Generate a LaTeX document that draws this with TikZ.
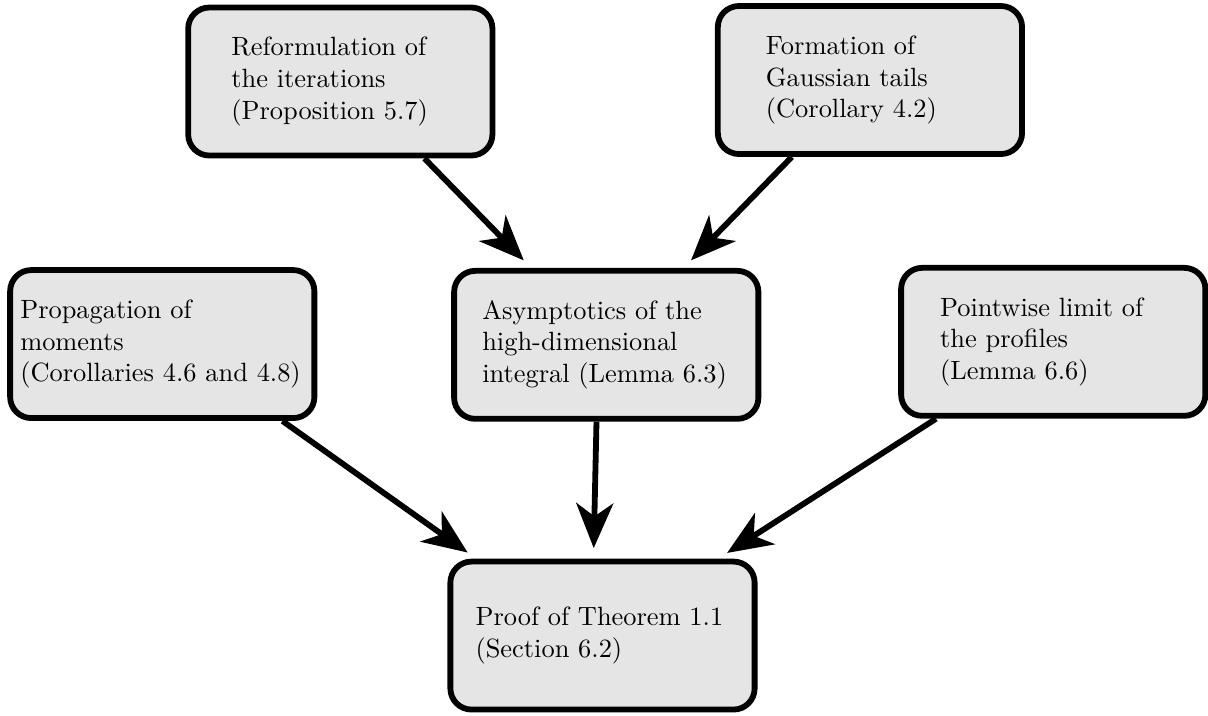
\documentclass[tikz,border=0pt]{standalone}
\usepackage{amsmath}
\usetikzlibrary{arrows.meta}

\begin{document}
\begin{tikzpicture}[
  box/.style = {draw, line width = 2.2pt, fill = black!10, rounded corners = 8pt, minimum width = 4.05cm, minimum height = 1.97cm, align = left},
  link/.style = {line width = 2.2pt, -{Stealth[length = 17pt, width = 14pt, inset = 5pt]}, shorten >= 4pt}
]
\useasboundingbox (0,0) rectangle (16.08,-9.52);
% top row
\node[box, text width = 2.9cm] (reform) at (4.53,-1.085) {Reformulation of\\the iterations\\(Proposition 5.7)};
\node[box, text width = 2.77cm] (gauss) at (11.58,-1.065) {Formation of\\Gaussian tails\\(Corollary 4.2)};
% middle row
\node[box, text width = 3.78cm] (moments) at (2.16,-4.58) {Propagation of\\moments\\(Corollaries 4.6 and 4.8)};
\node[box, text width = 3.3cm] (asym) at (8.07,-4.59) {Asymptotics of the\\high-dimensional\\integral (Lemma 6.3)};
\node[box, text width = 3.01cm] (limit) at (14.02,-4.55) {Pointwise limit of\\the profiles\\(Lemma 6.6)};
% bottom
\node[box, text width = 3.38cm] (proof) at (8.02,-8.46) {Proof of Theorem 1.1\\(Section 6.2)};
\draw[link] ([xshift = 1.12cm]reform.south) -- ([xshift = -1.0cm]asym.north);
\draw[link] ([xshift = -1.04cm]gauss.south) -- ([xshift = 1.03cm]asym.north);
\draw[link] ([xshift = 1.6cm]moments.south) -- ([xshift = -1.68cm]proof.north);
\draw[link] ([xshift = -0.13cm]asym.south) -- ([xshift = -0.12cm]proof.north);
\draw[link] ([xshift = -1.56cm]limit.south) -- ([xshift = 1.54cm]proof.north);
\end{tikzpicture}
\end{document}
